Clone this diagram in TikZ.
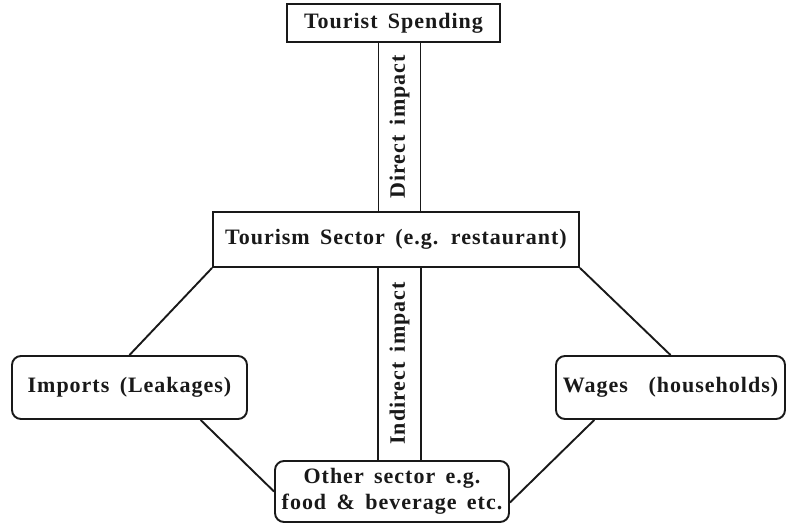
\documentclass[tikz,border=0pt]{standalone}
\usepackage{fontspec}
\setmainfont{Liberation Serif}[LetterSpace=4.5,WordSpace=1.6]
\usetikzlibrary{calc}
\tikzset{
  box/.style={draw=black!90, line width=1.9pt, inner sep=0pt, font=\fontsize{22}{26}\selectfont\bfseries, text=black!90, align=center},
  rbox/.style={box, rounded corners=9pt},
  vbox/.style={box, rotate=90},
  conn/.style={draw=black!90, line width=1.9pt}
}
\begin{document}
\begin{tikzpicture}[x=1pt,y=-1pt]
\useasboundingbox (0,0) rectangle (787,524);
\node[box, minimum width=213pt, minimum height=38pt] (ts) at (393.5,23) {Tourist Spending};
\node[box, minimum width=366pt, minimum height=55pt] (sec) at (396,239.5) {Tourism Sector (e.g. restaurant)};
\node[vbox, minimum width=170pt, minimum height=42pt] (dir) at (399.5,127) {Direct impact};
\node[vbox, minimum width=194pt, minimum height=43pt] (ind) at (399.5,363.5) {Indirect impact};
\node[rbox, minimum width=235pt, minimum height=63pt] (imp) at (129.5,387.5) {Imports (Leakages)};
\node[rbox, minimum width=229pt, minimum height=63pt] (wag) at (670.5,387.5) {Wages \ (households)};
\node[rbox, minimum width=234pt, minimum height=61pt] (oth) at (392,491.5) {Other sector e.g.\\food \& beverage etc.};
\draw[conn] (sec.south west) -- (imp.north);
\draw[conn] (sec.south east) -- (wag.north);
\draw[conn] ($(imp.south west)!0.8!(imp.south east)$) -- (oth.west);
\draw[conn] ($(wag.south west)!0.17!(wag.south east)$) -- ($(oth.east)+(0,11)$);
\end{tikzpicture}
\end{document}
